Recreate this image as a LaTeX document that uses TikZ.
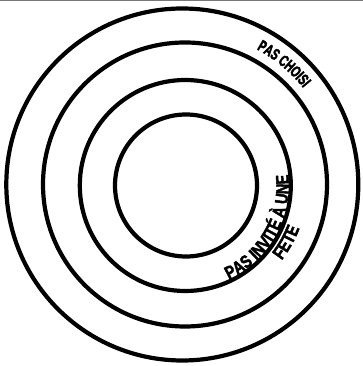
\documentclass[tikz,border=0pt]{standalone}
\usepackage{fontspec}
\newfontfamily\labA{Liberation Sans}[UprightFont={* Bold}, BoldFont={* Bold}, Scale=1.6, FakeStretch=0.66, FakeBold=2.5]
\newfontfamily\labB{Liberation Sans}[UprightFont={* Bold}, BoldFont={* Bold}, Scale=1.8, FakeStretch=0.8, FakeBold=2.5]
\usetikzlibrary{decorations.text,calc}
\tikzset{
  ring/.style={draw=black, line width=4.2pt},
  curvedlabel/.style={decorate, decoration={text along path, text align=center, text={#1}}}
}
\begin{document}
\begin{tikzpicture}[x=1pt,y=1pt]
\useasboundingbox (0,0) rectangle (363,366);
\fill[white] (0,0) rectangle (363,366);
\draw[line width=1pt, draw={rgb,255:red,120;green,120;blue,120}] (0,365.5) -- (363,365.5);
\coordinate (c1) at (182.3,181.5);
\coordinate (c2) at (185,181.5);
\coordinate (c3) at (185.3,180.5);
\coordinate (c4) at (186,180.5);
\coordinate (ct) at (183,181);
\draw[ring] (c1) circle[radius=176];
\draw[ring] (c2) circle[radius=142];
\draw[ring] (c3) circle[radius=105.5];
\draw[ring] (c4) circle[radius=71];
% PAS CHOISI (clockwise, tops outward)
\path[curvedlabel={|\labA|PAS CHOISI}]
  ($(ct)+(90.2:154.5)$) arc[start angle=90.2, end angle=10.2, radius=154.5];
% PAS INVITE A UNE (counterclockwise, tops inward, baseline on the ring)
\path[curvedlabel={|\labB|PAS INVITÉ À UNE}]
  ($(c3)+(-89.5:103.5)$) arc[start angle=-89.5, end angle=30.5, radius=103.5];
\path[curvedlabel={|\labB|FETE}]
  ($(c3)+(-69.2:122)$) arc[start angle=-69.2, end angle=10.8, radius=122];
\end{tikzpicture}
\end{document}
